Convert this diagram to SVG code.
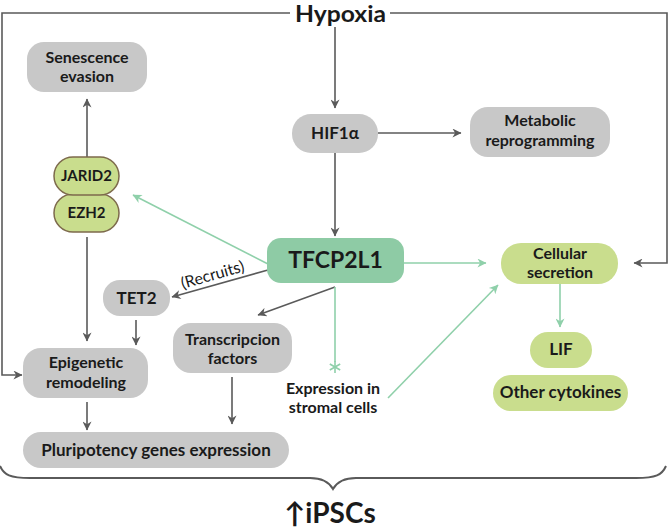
<svg xmlns="http://www.w3.org/2000/svg" width="669" height="528" viewBox="0 0 669 528">
<defs>
<style>
text{font-family:Lato,"Liberation Sans",sans-serif;font-weight:700;fill:#1a1a1a;text-anchor:middle}
.n{font-size:17px}
.m{font-size:16px}
.s{font-size:15px}
.gray{fill:#c8c8c8}
.lg{fill:#c9dd8d}
.dk{stroke:#5a5a5a;stroke-width:1.6;fill:none}
.gr{stroke:#8fd0aa;stroke-width:1.6;fill:none}
</style>
<marker id="ad" viewBox="0 0 10 10" refX="9.5" refY="5" markerWidth="11" markerHeight="9" orient="auto" markerUnits="userSpaceOnUse"><path d="M0,0 L10,5 L0,10 L3,5 z" fill="#5a5a5a"/></marker>
<marker id="ag" viewBox="0 0 10 10" refX="9.5" refY="5" markerWidth="11" markerHeight="9" orient="auto" markerUnits="userSpaceOnUse"><path d="M0,0 L10,5 L0,10 L3,5 z" fill="#8fd0aa"/></marker>
</defs>
<rect width="669" height="528" fill="#fff"/>

<g id="connectors">
<path class="dk" d="M290,13 H2 V375 H22" marker-end="url(#ad)"/>
<path class="dk" d="M390,13 H667 V263 H634" marker-end="url(#ad)"/>
<path class="dk" d="M335,27 V108" marker-end="url(#ad)"/>
<path class="dk" d="M378,133 H461" marker-end="url(#ad)"/>
<path class="dk" d="M335,153 V236" marker-end="url(#ad)"/>
<path class="dk" d="M87,157 V99" marker-end="url(#ad)"/>
<path class="dk" d="M87,237 V341" marker-end="url(#ad)"/>
<path class="dk" d="M136,320 V345" marker-end="url(#ad)"/>
<path class="dk" d="M87,402 V430" marker-end="url(#ad)"/>
<path class="dk" d="M232,377 V424" marker-end="url(#ad)"/>
<path class="dk" d="M268,270 L172,297" marker-end="url(#ad)"/>
<path class="dk" d="M335,287 L258,315" marker-end="url(#ad)"/>
<path class="gr" d="M268,264 L133,195" marker-end="url(#ag)"/>
<path class="gr" d="M404,263 H486" marker-end="url(#ag)"/>
<path class="gr" d="M335,287 V362"/>
<path class="gr" d="M388,398 L498,285" marker-end="url(#ag)"/>
<path class="gr" d="M560,284 V327" marker-end="url(#ag)"/>
<g stroke="#8fd0aa" stroke-width="1.6">
<line x1="335" y1="361" x2="335" y2="373"/>
<line x1="329.8" y1="364" x2="340.2" y2="370"/>
<line x1="329.8" y1="370" x2="340.2" y2="364"/>
</g>
<path d="M0,466 C4,475 10,478 30,478 L310,478 C322,478 329,482 333,489 C337,482 344,478 356,478 L636,478 C656,478 662,475 666,466" fill="none" stroke="#5a5a5a" stroke-width="2"/>
<text x="0" y="0" transform="translate(214,280) rotate(-16)" style="font-weight:400;font-size:16px">(Recruits)</text>
</g>

<g id="hypoxia"><text x="340.5" y="22" style="font-size:22px" textLength="91" lengthAdjust="spacingAndGlyphs">Hypoxia</text></g>

<g id="senescence"><rect class="gray" x="27" y="42" width="120" height="50" rx="17"/>
<text class="m"><tspan x="87" y="62.5">Senescence</tspan><tspan x="87" y="82">evasion</tspan></text></g>

<g id="hif1a"><rect class="gray" x="292" y="114" width="86" height="39" rx="19"/>
<text class="n" x="335" y="139">HIF1α</text></g>

<g id="metabolic"><rect class="gray" x="470" y="107" width="140" height="50" rx="18"/>
<text class="m"><tspan x="540" y="126">Metabolic</tspan><tspan x="540" y="145.5">reprogramming</tspan></text></g>

<g id="jarid2-ezh2">
<rect x="54" y="194" width="65" height="38" rx="19" fill="#c9dd8d" stroke="#7d6a4c" stroke-width="1.5"/>
<rect x="54" y="157" width="65" height="38" rx="19" fill="#c9dd8d" stroke="#7d6a4c" stroke-width="1.5"/>
<text class="s" x="86.5" y="181">JARID2</text>
<text class="s" x="86.5" y="218">EZH2</text></g>

<g id="tfcp2l1"><rect x="267" y="238" width="137" height="45" rx="14" fill="#8ecba5"/>
<text x="335.5" y="268" style="font-size:23px">TFCP2L1</text></g>

<g id="cellular-secretion"><rect class="lg" x="501" y="243" width="117" height="41" rx="20"/>
<text class="m"><tspan x="560" y="258.5">Cellular</tspan><tspan x="560" y="278">secretion</tspan></text></g>

<g id="tet2"><rect class="gray" x="103" y="280" width="67" height="36" rx="17"/>
<text class="n" x="136.5" y="304">TET2</text></g>

<g id="epigenetic"><rect class="gray" x="23" y="348" width="125" height="50" rx="18"/>
<text class="m"><tspan x="86" y="368">Epigenetic</tspan><tspan x="86" y="387.5">remodeling</tspan></text></g>

<g id="transcripcion"><rect class="gray" x="173" y="323" width="119" height="50" rx="18"/>
<text class="m"><tspan x="232.5" y="344.5">Transcripcion</tspan><tspan x="232.5" y="364">factors</tspan></text></g>

<g id="stromal"><text class="m"><tspan x="333" y="393.5">Expression in</tspan><tspan x="333" y="413">stromal cells</tspan></text></g>

<g id="lif"><rect class="lg" x="530" y="332" width="62" height="36" rx="18"/>
<text class="n" x="561" y="355">LIF</text></g>

<g id="other-cytokines"><rect class="lg" x="493" y="375" width="135" height="36" rx="18"/>
<text class="n" x="560.5" y="398">Other cytokines</text></g>

<g id="pluripotency"><rect class="gray" x="23" y="432" width="266" height="36" rx="18"/>
<text class="n" x="156" y="456">Pluripotency genes expression</text></g>

<g id="ipscs"><text x="330" y="523" style="font-size:28px">↑iPSCs</text></g>
</svg>
